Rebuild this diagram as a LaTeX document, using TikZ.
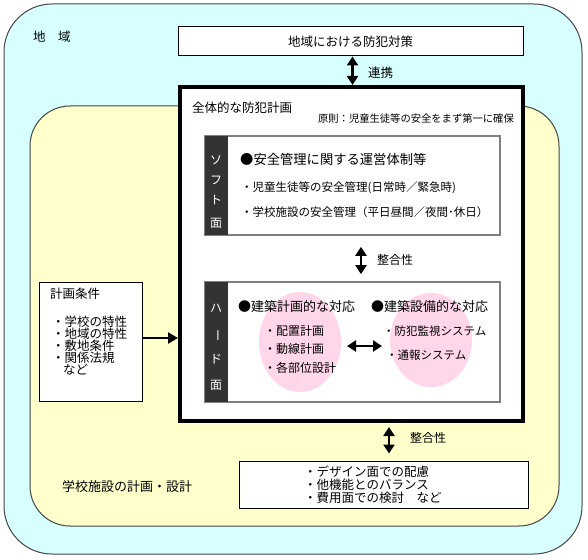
\documentclass[tikz,border=0pt]{standalone}
\usepackage{fontspec}
\setmainfont{Noto Sans CJK JP}
\usetikzlibrary{arrows.meta,shapes.geometric,calc}
\definecolor{cyanbg}{RGB}{215,255,255}
\definecolor{yellowbg}{RGB}{255,255,204}
\definecolor{pinkbg}{RGB}{255,214,234}
\definecolor{darkbar}{RGB}{51,51,51}
\definecolor{graybd}{RGB}{128,128,128}
\definecolor{edgegray}{RGB}{70,70,70}
\tikzset{
  whitebox/.style={draw=black, line width=1pt, fill=white, inner sep=0pt},
  panel/.style={draw=graybd, line width=1.6pt, fill=white, inner sep=0pt},
  mainbox/.style={draw=black, line width=4pt, fill=white, inner sep=0pt},
  txt/.style={inner sep=0pt, anchor=west, font=\fontsize{12.5pt}{13pt}\selectfont},
  bartxt/.style={inner sep=0pt, text=white, font=\fontsize{12pt}{13pt}\selectfont},
  pinkell/.style={ellipse, fill=pinkbg, draw=none, inner sep=0pt},
  dblarrow/.style={{Triangle[width=11pt,length=9pt]}-{Triangle[width=11pt,length=9pt]}, line width=2.8pt},
  onearrow/.style={-{Triangle[width=11pt,length=10pt]}, line width=2.8pt}
}
\begin{document}
\begin{tikzpicture}[x=1pt,y=-1pt]
\useasboundingbox (0,0) rectangle (588,559);
% region backgrounds
\draw[fill=cyanbg, draw=edgegray, line width=1pt, rounded corners=48pt] (4,4) rectangle (582,554);
\draw[fill=yellowbg, draw=edgegray, line width=1pt, rounded corners=40pt] (30,106) rectangle (559,526);
\node[txt] (chiiki) at (33,37) {地　域};
% top box
\node[whitebox, minimum width=345pt, minimum height=29pt, font=\fontsize{12.5pt}{13pt}\selectfont] (tb) at (350.5,41.5) {地域における防犯対策};
% main box
\node[mainbox, minimum width=343pt, minimum height=334pt] (mb) at (351.5,254) {};
\node[txt] (zentai) at (192,108) {全体的な防犯計画};
\node[txt, anchor=east, font=\fontsize{10.3pt}{11pt}\selectfont] (gensoku) at (514,119) {原則：児童生徒等の安全をまず第一に確保};
% soft box
\node[panel, minimum width=295pt, minimum height=99pt] (soft) at (352.5,185.5) {};
\fill[darkbar] ($(soft.north west)+(0.8,0.8)$) rectangle ($(soft.south west)+(24,-0.8)$);
\node[bartxt] (s1) at (216,160) {ソ};
\node[bartxt] (s2) at (216,180) {フ};
\node[bartxt] (s3) at (216,200) {ト};
\node[bartxt] (s4) at (216,223) {面};
\node[txt, font=\fontsize{13.3pt}{14pt}\selectfont] (sh) at (240,159) {●安全管理に関する運営体制等};
\node[txt, font=\fontsize{11.5pt}{12pt}\selectfont] (si1) at (241,188) {・児童生徒等の安全管理(日常時／緊急時)};
\node[txt, font=\fontsize{11.5pt}{12pt}\selectfont] (si2) at (241,212) {・学校施設の安全管理（平日昼間／夜間･休日）};
% hard box
\node[panel, minimum width=295pt, minimum height=120pt] (hard) at (352.5,342) {};
\fill[darkbar] ($(hard.north west)+(0.8,0.8)$) rectangle ($(hard.south west)+(24,-0.8)$);
\node[bartxt] (h1) at (216,308) {ハ};
\node[bartxt, rotate=-90] (h2) at (216,335) {ー};
\node[bartxt] (h3) at (216,359) {ド};
\node[bartxt] (h4) at (216,385) {面};
\node[pinkell, minimum width=82pt, minimum height=100pt] (e1) at (300,342) {};
\node[pinkell, minimum width=82pt, minimum height=94pt] (e2) at (431,340) {};
\node[txt, font=\fontsize{13pt}{14pt}\selectfont] (hh1) at (238,307) {●建築計画的な対応};
\node[txt, font=\fontsize{13pt}{14pt}\selectfont] (hh2) at (371,307) {●建築設備的な対応};
\node[txt, font=\fontsize{12pt}{13pt}\selectfont] (hl1) at (264,331) {・配置計画};
\node[txt, font=\fontsize{12pt}{13pt}\selectfont] (hl2) at (264,349) {・動線計画};
\node[txt, font=\fontsize{12pt}{13pt}\selectfont] (hl3) at (264,368) {・各部位設計};
\node[txt, font=\fontsize{11.5pt}{12pt}\selectfont] (hr1) at (383,331) {・防犯監視システム};
\node[txt, font=\fontsize{11.5pt}{12pt}\selectfont] (hr2) at (386,355) {・通報システム};
\coordinate (ha1) at (347,346);
\coordinate (ha2) at (382,346);
\draw[dblarrow] (ha1) -- (ha2);
% left box
\node[whitebox, minimum width=103pt, minimum height=119pt] (lb) at (90.5,341.5) {};
\node[txt] (kj) at (50,294) {計画条件};
\node[txt] (k1) at (52,322) {・学校の特性};
\node[txt] (k2) at (52,334) {・地域の特性};
\node[txt] (k3) at (52,346) {・敷地条件};
\node[txt] (k4) at (52,358) {・関係法規};
\node[txt] (k5) at (63,370) {など};
\coordinate (la) at (142,338);
\draw[onearrow] (la) -- (la -| mb.west);
% bottom box
\node[whitebox, minimum width=289pt, minimum height=47pt] (bb) at (383.5,484.5) {};
\node[txt, align=left] (bt) at (304,485) {・デザイン面での配慮\\・他機能とのバランス\\・費用面での検討　など};
\node[txt, font=\fontsize{13pt}{14pt}\selectfont] (gk) at (62,487) {学校施設の計画・設計};
% arrows between boxes
\draw[dblarrow] (tb.south -| 352.5,0) -- (mb.north -| 352.5,0);
\node[txt] (renkei) at (368,73) {連携};
\draw[dblarrow, shorten <=11pt, shorten >=7pt] (soft.south -| 361,0) -- (hard.north -| 361,0);
\node[txt, font=\fontsize{12pt}{13pt}\selectfont] (sg1) at (377,260) {整合性};
\draw[dblarrow, shorten <=4pt, shorten >=7pt] (mb.south -| 389,0) -- (bb.north -| 389,0);
\node[txt, font=\fontsize{12pt}{13pt}\selectfont] (sg2) at (410,438) {整合性};
\end{tikzpicture}
\end{document}
